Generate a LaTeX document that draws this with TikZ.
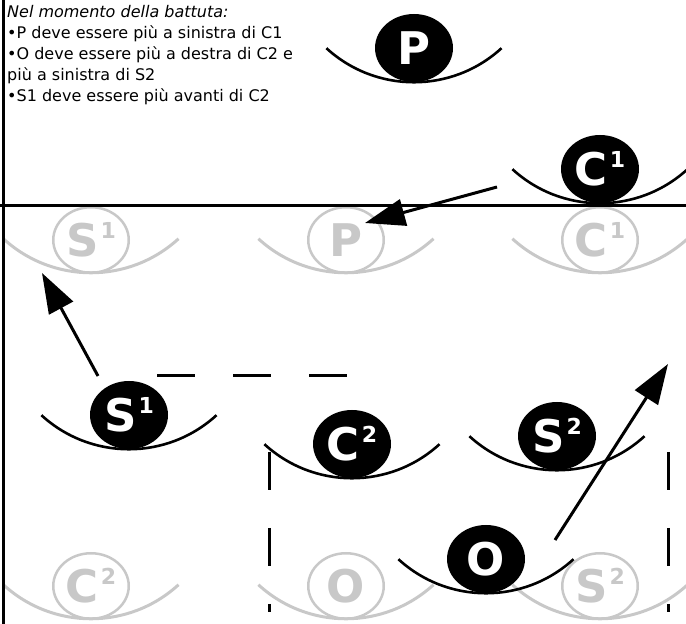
\documentclass[tikz,border=0pt]{standalone}
\usepackage{fontspec}
\setmainfont{DejaVu Sans}
\usepackage{tikz}
\usetikzlibrary{positioning,arrows.meta,calc,shapes.geometric}

\definecolor{ghostgray}{RGB}{200,200,200}
\newcommand{\shirt}[1]{\hspace{2pt}\raisebox{18pt}{\fontsize{22}{22}\selectfont #1}}

\tikzset{
  player/.style={ellipse,fill=black,text=white,minimum width=78pt,minimum height=68pt,
    inner sep=0pt,font=\bfseries\fontsize{45}{45}\selectfont},
  ghost/.style={ellipse,draw=ghostgray,line width=2.5pt,text=ghostgray,minimum width=75.5pt,
    minimum height=65.5pt,inner sep=0pt,outer sep=0pt,font=\bfseries\fontsize{45}{45}\selectfont},
  bowl/.style={line width=2.6pt},
  ghostbowl/.style={line width=3pt,draw=ghostgray},
  move/.style={line width=3pt,-{Triangle[length=40pt,width=27pt]}},
  zone/.style={line width=3pt,dash pattern=on 38pt off 38pt}
}

\begin{document}
\begin{tikzpicture}[x=1pt,y=1pt]
  \useasboundingbox (0,0) rectangle (686,624);

  % old positions
  \node[ghost] (gs1) at (91,384) {S\shirt{1}};
  \node[ghost] (gp) at (346,384) {P};
  \node[ghost] (gc1) at (600,384) {C\shirt{1}};
  \node[ghost] (gc2) at (91,38) {C\shirt{2}};
  \node[ghost] (go) at (346,38) {O};
  \node[ghost] (gs2) at (600,38) {S\shirt{2}};

  \foreach \n in {gs1,gp,gc1,gc2,go,gs2}
    \draw[ghostbowl] ($(\n.south)+(-87.6,34)$) arc[start angle=227.5,end angle=312.5,radius=129.6pt];

  % players at the serve
  \node[player] (p) at (414,576) {P};
  \node[player] (c1) at (600,455) {C\shirt{1}};
  \node[player] (s1) at (129,209) {S\shirt{1}};
  \node[player] (c2) at (352,180) {C\shirt{2}};
  \node[player] (s2) at (557,188) {S\shirt{2}};
  \node[player] (o) at (486,65) {O};

  \foreach \n in {p,c1,s1,c2,s2,o}
    \draw[bowl] ($(\n.south)+(-87.6,34)$) arc[start angle=227.5,end angle=312.5,radius=129.6pt];

  % court lines
  \draw[line width=3pt] (3.5,0) -- (3.5,624);
  \draw[line width=3pt] (0,418) -- (686,418);

  % moves
  \coordinate (c1from) at (497,437);
  \coordinate (c1to) at (365,401);
  \coordinate (s1from) at (98,248);
  \coordinate (s1to) at (42,351);
  \coordinate (ofrom) at (555,84);
  \coordinate (oto) at (668,260);
  \draw[move] (c1from) -- (c1to);
  \draw[move] (s1from) -- (s1to);
  \draw[move] (ofrom) -- (oto);

  % overlap limits
  \coordinate (za) at (157,248);
  \coordinate (zb) at (347,248);
  \coordinate (zc) at (269,172);
  \coordinate (zd) at (269,12);
  \coordinate (ze) at (668,172);
  \coordinate (zf) at (668,12);
  \draw[zone] (za) -- (zb);
  \draw[zone] (zc) -- (zd);
  \draw[zone] (ze) -- (zf);

  \node[anchor=north west,align=left,inner sep=0pt,font=\fontsize{16}{21}\selectfont] (rules) at (7,619)
    {\textit{Nel momento della battuta:}\\
     •P deve essere più a sinistra di C1\\
     •O deve essere più a destra di C2 e\\
     più a sinistra di S2\\
     •S1 deve essere più avanti di C2};

\end{tikzpicture}
\end{document}
